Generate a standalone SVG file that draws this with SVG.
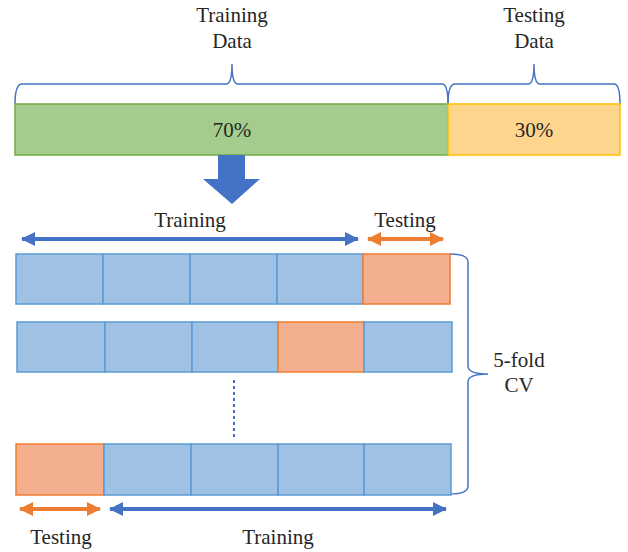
<svg xmlns="http://www.w3.org/2000/svg" width="628" height="552" viewBox="0 0 628 552">
<style>
  text { font-family: "Liberation Serif", "Times New Roman", serif; font-size: 21px; fill: #262626; text-anchor: middle; }
  .brace { fill: none; stroke: #4472c4; stroke-width: 1.5; }
  .cb { fill: #9fc1e4; stroke: #5b9bd5; stroke-width: 1.5; }
  .co { fill: #f4b08e; stroke: #ed7d31; stroke-width: 1.5; }
  .ab { stroke: #4472c4; stroke-width: 4; fill: none; }
  .ao { stroke: #ed7d31; stroke-width: 4; fill: none; }
</style>
<defs>
  <marker id="hb" viewBox="0 0 14 14" refX="13" refY="7" markerWidth="14" markerHeight="14" markerUnits="userSpaceOnUse" orient="auto-start-reverse">
    <path d="M0,0 L14,7 L0,14 Z" fill="#4472c4"/>
  </marker>
  <marker id="ho" viewBox="0 0 14 14" refX="13" refY="7" markerWidth="14" markerHeight="14" markerUnits="userSpaceOnUse" orient="auto-start-reverse">
    <path d="M0,0 L14,7 L0,14 Z" fill="#ed7d31"/>
  </marker>
</defs>

<g id="top-labels">
  <text x="232" y="22">Training</text>
  <text x="232" y="48">Data</text>
  <text x="534" y="22">Testing</text>
  <text x="534" y="48">Data</text>
</g>

<g id="braces">
  <path class="brace" d="M15,104 Q15,84 22,84 L226,84 Q232,84 232,64 Q232,84 238,84 L442,84 Q448,84 448,104"/>
  <path class="brace" d="M448,104 Q448,84 455,84 L528,84 Q534,84 534,64 Q534,84 540,84 L614,84 Q620,84 620,104"/>
  <path class="brace" d="M450,254 Q468,254 468,262 L468,366 Q468,374 488,374 Q468,374 468,382 L468,486 Q468,494 450,494"/>
</g>

<g id="split-bar">
  <rect x="15" y="104" width="433" height="51" fill="#a4cc8c" stroke="#70ad47" stroke-width="1.5"/>
  <text x="232" y="137">70%</text>
  <rect x="448" y="104" width="172" height="51" fill="#fed58d" stroke="#ffc000" stroke-width="1.5"/>
  <text x="534" y="137">30%</text>
</g>

<g id="big-arrow">
  <path d="M218,155 L245,155 L245,179 L260,179 L232,204 L203,179 L218,179 Z" fill="#4472c4"/>
</g>

<g id="row1">
  <rect class="cb" x="16" y="254" width="87" height="50"/>
  <rect class="cb" x="103" y="254" width="87" height="50"/>
  <rect class="cb" x="190" y="254" width="87" height="50"/>
  <rect class="cb" x="277" y="254" width="86" height="50"/>
  <rect class="co" x="363" y="254" width="87" height="50"/>
</g>

<g id="row2">
  <rect class="cb" x="17" y="322" width="88" height="50"/>
  <rect class="cb" x="105" y="322" width="87" height="50"/>
  <rect class="cb" x="192" y="322" width="86" height="50"/>
  <rect class="co" x="278" y="322" width="86" height="50"/>
  <rect class="cb" x="364" y="322" width="88" height="50"/>
</g>

<g id="row3">
  <rect class="co" x="16" y="444" width="88" height="51"/>
  <rect class="cb" x="104" y="444" width="87" height="51"/>
  <rect class="cb" x="191" y="444" width="87" height="51"/>
  <rect class="cb" x="278" y="444" width="86" height="51"/>
  <rect class="cb" x="364" y="444" width="87" height="51"/>
</g>

<g id="connectors">
  <line class="ab" x1="22" y1="239" x2="358" y2="239" marker-start="url(#hb)" marker-end="url(#hb)"/>
  <line class="ao" x1="368" y1="239" x2="443" y2="239" marker-start="url(#ho)" marker-end="url(#ho)"/>
  <line class="ao" x1="20" y1="509" x2="100" y2="509" marker-start="url(#ho)" marker-end="url(#ho)"/>
  <line class="ab" x1="110" y1="509" x2="446" y2="509" marker-start="url(#hb)" marker-end="url(#hb)"/>
  <line x1="234" y1="380" x2="234" y2="440" stroke="#4472c4" stroke-width="2" stroke-dasharray="3 3"/>
</g>

<g id="labels">
  <text x="190" y="227">Training</text>
  <text x="405" y="227">Testing</text>
  <text x="519" y="367">5-fold</text>
  <text x="519" y="392">CV</text>
  <text x="61" y="544">Testing</text>
  <text x="278" y="544">Training</text>
</g>
</svg>
